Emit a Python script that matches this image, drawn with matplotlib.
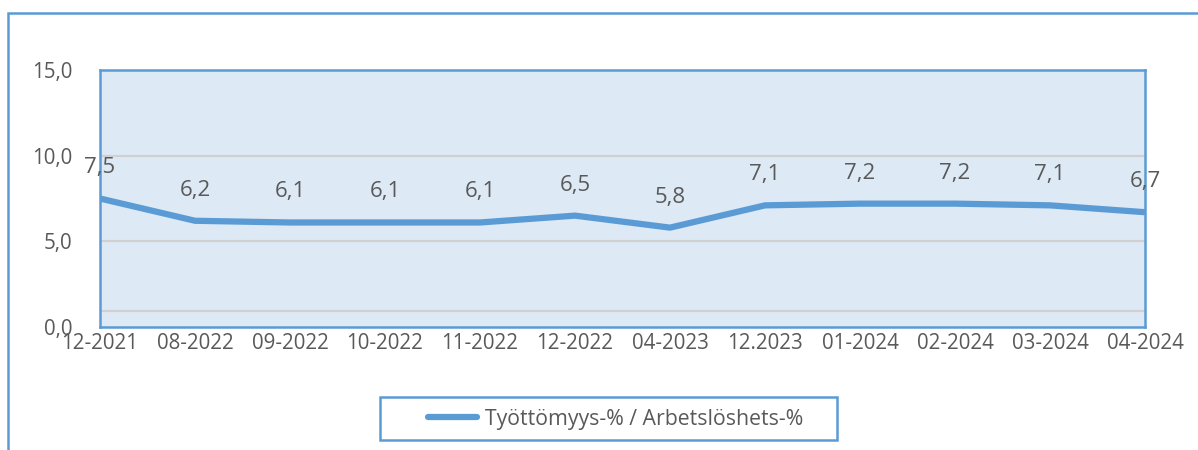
import matplotlib.pyplot as plt
from matplotlib.patches import Rectangle

kuukaudet = ["12-2021", "08-2022", "09-2022", "10-2022", "11-2022", "12-2022",
             "04-2023", "12.2023", "01-2024", "02-2024", "03-2024", "04-2024"]
tyottomyys = [7.5, 6.2, 6.1, 6.1, 6.1, 6.5, 5.8, 7.1, 7.2, 7.2, 7.1, 6.7]
y_ticks = [0, 5, 10, 15]

sininen = "#5B9BD5"
harmaa = "#595959"
plt.rcParams['font.family'] = ['Open Sans', 'DejaVu Sans']

W, H = 1198, 450
fig = plt.figure(figsize=(W / 100, H / 100), dpi=100)
# ulkokehys
fig.patches.append(Rectangle((8 / W, -0.1), 1.1, 1.1 - 13 / H,
                             transform=fig.transFigure, fill=False,
                             edgecolor=sininen, linewidth=1.8, zorder=0))
# selitteen kehys
fig.patches.append(Rectangle((380 / W, 1 - 440 / H), 457 / W, 43 / H,
                             transform=fig.transFigure, fill=False,
                             edgecolor=sininen, linewidth=1.8, zorder=0))

ax = fig.add_axes([100 / W, 1 - 327 / H, 1045 / W, 257 / H])
ax.set_facecolor("#DDE9F5")
x = list(range(len(kuukaudet)))
ax.plot(x, tyottomyys, color=sininen, linewidth=4.5, solid_capstyle="butt",
        label="Työttömyys-% / Arbetslöshets-%", zorder=3)
for xi, v in zip(x, tyottomyys):
    ax.annotate(f"{v:.1f}".replace(".", ","), (xi, v), xytext=(0, 22),
                textcoords="offset points", ha="center", va="center",
                fontsize=16, color=harmaa, zorder=4)

for g in (10, 5, 0.93):
    ax.axhline(g, color="#D0D0D0", linewidth=1.5, zorder=1)

ax.set_xlim(0, len(kuukaudet) - 1)
ax.set_ylim(0, 15)
ax.set_xticks(x)
ax.set_xticklabels(kuukaudet)
ax.set_yticks(y_ticks)
ax.set_yticklabels([f"{t:.1f}".replace(".", ",") for t in y_ticks])
ax.tick_params(axis="both", length=0, labelsize=14.8, labelcolor=harmaa)
ax.tick_params(axis="y", pad=20)
ax.tick_params(axis="x", pad=4)
for s in ax.spines.values():
    s.set_color(sininen)
    s.set_linewidth(1.8)

leg = ax.legend(loc="center left", bbox_to_anchor=(428 / W, 1 - 419 / H),
                bbox_transform=fig.transFigure, fontsize=15.3, frameon=False,
                handlelength=2.3, handletextpad=0.38, borderpad=0,
                borderaxespad=0, labelcolor=harmaa)
leg.get_lines()[0].set_solid_capstyle("round")

fig.savefig("out.png", dpi=100)
